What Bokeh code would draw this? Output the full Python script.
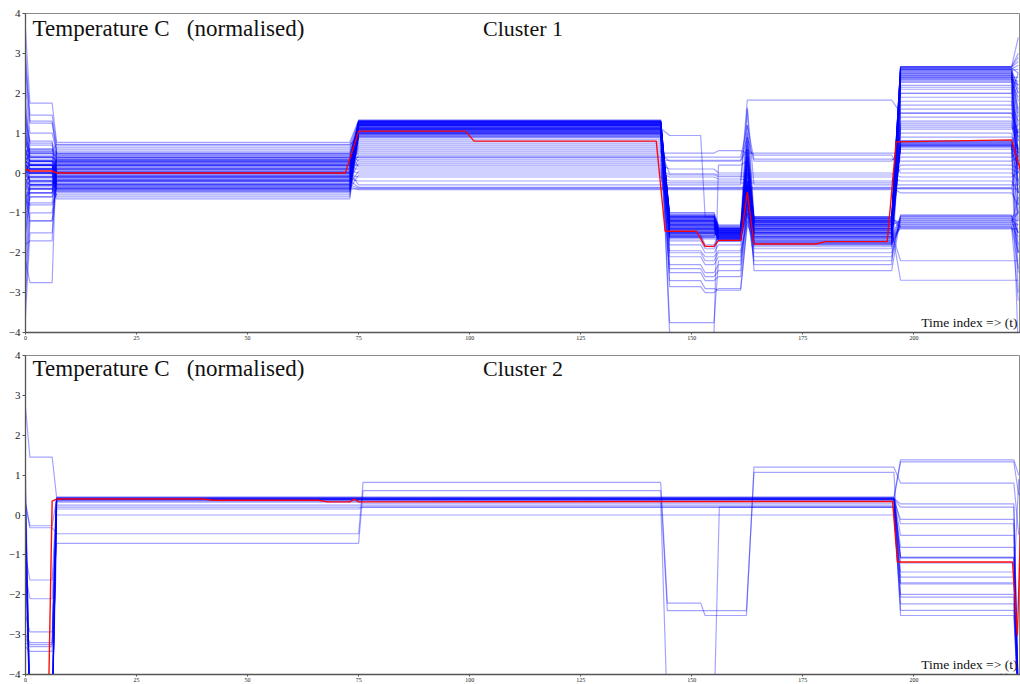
from bokeh.plotting import figure
from bokeh.layouts import column
from bokeh.models import Label, FixedTicker, Range1d
from bokeh.embed import file_html
from bokeh.resources import INLINE

# ---------------- data ----------------
# time index at which each level segment of a series starts/ends
seg_times_1 = [[0], [1, 6], [7, 73], [75, 143], [145, 152], [153, 155],
               [156, 161], [162.5], [164, 195], [197, 222], [223.5]]

# cluster 1 series: levels per segment
# (t0, t1-6, t7-73, t75-143, t145-152, t153-155, t156-161, t162, t164-195, t197-222, end)
cluster1 = [
    [3.6, 1.75, 0.77, 1.33, -1.05, -1.05, -1.40, 1.60, -1.10, 2.67, 3.40],
    [3.0, 1.45, 0.70, 1.30, -1.10, -1.10, -1.45, 1.20, -1.15, 2.62, 1.50],
    [2.6, 1.25, 0.60, 1.28, -1.15, -1.15, -1.50, 0.90, -1.20, 2.60, 0.50],
    [2.2, 1.00, 0.50, 1.25, -1.20, -1.20, -1.55, 0.60, -1.25, 2.55, -0.50],
    [1.8, 0.75, 0.45, 1.22, -1.25, -1.25, -1.60, -0.50, -1.30, 2.50, -1.00],
    [1.5, 0.60, 0.40, 1.20, -1.30, -1.30, -1.65, -0.80, -1.35, 2.45, 2.00],
    [1.2, 0.50, 0.35, 1.18, -1.35, -1.35, -1.70, -0.30, -1.40, 2.40, 2.40],
    [1.0, 0.45, 0.30, 1.15, -1.40, -1.40, -1.40, 0.20, -1.45, 2.35, 2.30],
    [0.8, 0.40, 0.25, 1.12, -1.45, -1.45, -1.45, -0.20, -1.50, 2.30, 1.00],
    [0.6, 0.35, 0.20, 1.10, -1.50, -1.50, -1.50, 0.40, -1.55, 2.20, 0.80],
    [0.5, 0.30, 0.15, 1.08, -1.55, -1.80, -1.55, -0.90, -1.60, 2.10, 0.30],
    [0.4, 0.25, 0.10, 1.05, -1.60, -1.85, -1.60, -1.00, -1.65, 2.00, -0.30],
    [0.3, 0.20, 0.05, 1.02, -1.05, -1.05, -1.35, -0.60, -1.70, 1.90, -2.00],
    [0.2, 0.15, 0.00, 1.00, -1.10, -1.10, -1.40, -0.70, -1.75, 1.80, 0.00],
    [0.1, 0.10, -0.05, 0.98, -1.20, -1.20, -1.45, 0.10, -1.80, 1.60, 0.90],
    [0.0, 0.05, -0.10, 0.95, -1.30, -1.30, -1.50, -0.60, -1.10, 1.40, 0.60],
    [-0.1, 0.00, -0.15, 0.92, -1.40, -1.40, -1.55, -0.40, -1.15, 1.20, 0.50],
    [-0.2, -0.05, -0.20, 0.90, -1.50, -1.50, -1.60, -0.50, -1.20, 1.00, 0.20],
    [-0.3, -0.10, -0.25, 1.25, -1.60, -1.60, -1.65, 0.80, -1.25, 0.81, 0.10],
    [-0.4, -0.15, -0.30, 1.20, -1.70, -1.90, -1.70, -0.20, -1.30, 0.78, 0.00],
    [-0.5, -0.20, -0.35, 1.15, -1.80, -2.00, -1.80, -0.60, -1.35, 0.75, -0.50],
    [-0.7, -0.25, -0.40, 1.10, -1.95, -2.10, -1.95, -0.80, -1.40, 0.72, -1.20],
    [-1.0, -0.30, -0.45, 1.05, -2.10, -2.30, -2.10, -0.90, -1.45, 0.70, -2.50],
    [-1.3, -0.35, -0.55, 1.00, -2.30, -2.50, -2.30, -1.00, -1.50, 0.68, -3.00],
    [-1.6, -0.40, -0.65, 0.95, -2.50, -2.70, -2.60, -1.10, -1.55, 0.65, -4.50],
    [-2.0, -0.50, 0.20, 1.30, -2.70, -2.90, -2.94, -1.20, -1.60, 0.80, 0.30],
    [-2.4, -0.75, 0.10, 1.27, -2.85, -3.00, -2.90, -1.30, -1.65, 0.70, 0.70],
    [-2.8, -1.00, 0.00, 1.22, -3.75, -3.75, -2.20, -1.00, -2.20, -1.07, -2.00],
    [-3.2, -1.20, -0.10, 1.18, -4.00, -4.05, 0.20, 0.30, -2.45, -1.10, -1.50],
    [-3.6, -1.50, -0.20, 1.12, 0.94, -1.10, -1.45, -0.50, -2.00, -1.15, -1.20],
    [0.1, 0.00, -0.40, -0.40, -0.40, -0.40, -0.40, -0.40, -0.40, -0.40, -0.40],
    [0.2, 0.10, -0.30, -0.38, -0.38, -0.38, -0.38, -0.38, -0.38, -0.38, -1.00],
    [-0.1, -0.10, -0.35, -0.42, -0.42, -0.42, -0.42, -0.42, -0.42, -0.37, 0.50],
    [0.3, 0.20, -0.20, -0.36, -0.37, -0.37, -0.36, -0.36, -0.36, -0.50, -0.80],
    [0.4, 0.30, 0.00, -0.30, -0.30, -0.30, -0.30, 1.64, -0.30, -0.30, -0.30],
    [0.5, 0.40, 0.30, 0.50, 0.50, 0.50, 0.56, 0.50, 0.50, 0.50, 0.20],
    [0.6, 0.50, 0.40, 0.40, 0.40, 0.40, 0.40, 1.20, 0.35, 0.30, 0.40],
    [0.7, 0.55, 0.45, 0.30, 0.32, 0.32, 0.32, 0.60, 0.45, 0.00, -0.20],
    [-0.2, -0.30, 0.20, 0.20, 0.10, 0.10, 0.00, 0.00, 0.00, -0.10, 0.00],
    [-0.3, -0.40, 0.10, 0.10, -0.05, -0.05, -0.09, -0.10, -0.10, -0.20, -0.50],
    [0.0, 0.00, 0.05, 0.00, -0.10, -0.10, -0.15, -0.20, -0.20, 0.20, 0.10],
    [0.1, 0.10, -0.05, -0.10, -0.20, -0.20, -0.20, 1.83, 1.83, 1.50, 1.00],
    [0.2, 0.20, -0.15, -0.20, -0.25, -0.25, -0.25, -0.25, -0.25, 0.40, 0.60],
    [0.0, 0.30, 0.30, 1.30, -1.10, -1.10, -1.40, 0.40, -1.20, 2.67, 3.00],
    [0.1, 0.20, 0.20, 1.28, -1.20, -1.20, -1.50, 1.00, -1.30, 2.64, 2.50],
    [-0.1, 0.10, 0.10, 1.26, -1.30, -1.30, -1.60, -0.30, -1.40, 2.58, 2.60],
    [0.2, 0.00, 0.00, 1.24, -1.40, -1.40, -1.40, -0.50, -1.50, 2.52, 2.20],
    [-0.2, -0.10, -0.10, 1.22, -1.50, -1.50, -1.50, 0.70, -1.60, 2.47, 2.00],
    [0.3, 0.50, 0.40, 1.20, -1.15, -1.15, -1.45, -0.70, -1.70, 2.42, 1.80],
    [0.5, 0.60, 0.50, 1.10, -1.25, -1.25, -1.55, -0.40, -1.75, 2.37, 1.60],
    [0.0, -0.20, -0.30, 1.00, -1.35, -1.35, -1.65, -0.60, -1.80, -1.30, -1.30],
    [0.4, -0.30, -0.40, 0.90, -1.45, -1.45, -1.70, -0.50, -1.78, -1.35, -2.00],
    [-0.4, -0.40, -0.45, 1.30, -1.55, -1.55, -1.50, -0.70, -1.60, -1.40, -1.40],
    [-0.6, -0.50, -0.20, 1.27, -1.60, -1.60, -1.40, -0.30, -1.50, -2.20, -2.20],
    [-0.8, -0.30, -0.10, 1.20, -1.10, -1.10, -1.35, -0.40, -1.40, -2.69, -2.69],
    [0.9, 0.20, 0.15, 0.80, -1.20, -1.20, -1.45, -0.30, -1.30, -1.20, -1.00],
    [1.1, 0.30, 0.25, 0.60, -1.30, -1.30, -1.55, 0.30, -1.20, 1.10, 1.20],
    [1.4, 0.40, 0.35, 0.40, -1.40, -1.40, -1.65, -0.50, -2.30, 1.30, 0.80],
    [-0.5, -0.50, 0.00, 0.70, -1.50, -1.50, -1.60, -0.20, -1.15, -1.25, -1.50],
    [-1.5, -0.60, 0.55, 1.05, -1.00, -1.00, -1.30, 0.50, -1.25, 2.00, 2.50],
    [0.2, 0.10, 0.33, 1.31, -1.08, -1.08, -1.38, -0.20, -1.12, 2.65, 2.80],
    [-0.3, 0.00, 0.28, 1.29, -1.12, -1.12, -1.42, 0.50, -1.18, 2.60, 2.10],
    [0.1, -0.20, 0.22, 1.27, -1.18, -1.18, -1.48, -0.60, -1.22, 2.56, 1.20],
    [0.6, 0.30, 0.18, 1.24, -1.22, -1.22, -1.52, -0.10, -1.28, 2.50, 0.20],
    [-0.6, -0.30, 0.12, 1.21, -1.28, -1.28, -1.58, 0.20, -1.33, 2.44, -0.80],
    [0.3, 0.10, 0.08, 1.19, -1.33, -1.33, -1.62, -0.70, -1.38, 2.39, 1.40],
    [1.6, 0.70, 0.03, 1.16, -1.38, -1.38, -1.66, -0.40, -1.43, 2.33, 2.20],
    [-0.2, -0.10, -0.02, 1.13, -1.42, -1.42, -1.45, 0.00, -1.48, 2.27, 1.90],
    [0.0, 0.20, -0.07, 1.11, -1.48, -1.48, -1.50, -0.30, -1.53, 2.15, 0.40],
    [0.8, 0.40, -0.12, 1.08, -1.52, -1.52, -1.55, 0.60, -1.58, -1.10, -1.00],
    [-0.9, -0.40, -0.17, 1.06, -1.58, -1.58, -1.60, -0.80, -1.63, -1.15, -1.80],
    [0.4, 0.20, -0.22, 1.03, -1.62, -1.62, -1.64, -0.50, -1.68, -1.20, -1.30],
    [-0.4, -0.20, -0.27, 1.00, -1.07, -1.07, -1.37, 0.00, -1.72, -1.25, -0.60],
    [0.5, 0.30, -0.32, 0.97, -1.13, -1.13, -1.43, -0.90, -1.76, -1.30, -2.40],
    [-1.1, -0.60, -0.37, 1.30, -1.17, -1.17, -1.47, -0.30, -1.10, -1.35, -1.60],
    [0.0, 0.00, -0.42, 1.26, -1.23, -1.23, -1.53, 0.30, -1.15, -1.38, -3.20],
    [1.3, 0.80, -0.47, 1.23, -1.27, -1.27, -1.57, -0.40, -1.20, 0.77, 1.10],
    [-0.7, -0.80, -0.50, 1.19, -1.32, -1.32, -1.62, -0.60, -1.25, 0.74, 0.30],
    [0.2, 0.00, -0.60, 1.14, -1.37, -1.37, -1.67, 0.10, -1.30, 0.70, 0.60],
    [-2.2, -2.75, 0.65, 1.09, -1.43, -1.43, -1.40, -0.70, -1.35, 0.66, -0.20],
    [0.9, 0.55, 0.72, 0.85, -1.47, -1.47, -1.45, -0.20, -1.40, 1.70, 1.30],
    [-1.8, -1.70, 0.38, 0.75, -1.53, -1.53, -1.50, -0.50, -1.45, 1.50, 0.90],
    [0.0, 0.10, 0.32, 0.65, -1.57, -1.57, -1.55, 0.40, -1.50, 1.25, 0.50],
    [-0.1, -0.10, 0.27, 0.55, -0.02, -0.02, -0.05, -0.05, -0.05, 0.10, 0.00],
    [0.3, 0.20, 0.02, 0.45, 0.30, 0.30, 0.30, 0.90, 0.30, 0.60, 0.40],
    [0.1, 0.00, -0.08, 0.35, -1.65, -1.65, -1.68, -1.00, -2.10, -1.05, -1.50],
    [-0.5, -1.20, -0.18, 0.25, -2.00, -2.20, -2.00, -1.20, -1.85, 0.90, 0.60],
    [2.8, 1.30, 0.48, 0.15, -2.40, -2.60, -2.45, -0.80, -1.90, 1.15, 1.00],
    [0.6, 0.10, -0.28, 0.05, -1.00, -1.00, -1.32, -0.30, -1.13, 2.66, 2.90],
    [-0.3, -0.20, -0.38, -0.05, -1.20, -1.20, -1.50, 0.00, -1.23, 2.61, 2.70],
]

centroid1_t = [0, 1, 6, 7, 72, 75, 99, 101, 142, 144, 151, 153, 155, 156, 161, 162.5,
               164, 178, 180, 194, 196, 222, 224]
centroid1_v = [0.10, 0.05, 0.05, 0.00, 0.00, 1.05, 1.05, 0.80, 0.80, -1.46, -1.46, -1.84,
               -1.84, -1.69, -1.69, -0.48, -1.78, -1.78, -1.72, -1.72, 0.78, 0.83, 0.06]

seg_times_2 = [[0], [1, 6], [7, 75], [76, 143], [144.5, 152], [153, 155],
               [156.2, 162.3], [164, 195.5], [197, 222.5], [223.6]]

# cluster 2 series: levels per segment
# (t0, t1-6, t7-75, t76-143, t145-152, t153-155, t156-162, t164-195, t197-222, end)
cluster2 = [
    [2.70, 1.45, 0.45, 0.45, 0.45, 0.45, 0.45, 0.45, 1.38, 1.00],
    [0.30, -0.27, 0.40, 0.40, 0.40, 0.40, 0.40, 0.40, 1.33, 0.50],
    [0.25, -0.32, -0.47, 0.82, -2.21, -2.52, -2.52, 1.20, 0.80, -0.50],
    [-1.00, -1.63, 0.42, 0.42, 0.42, 0.42, 0.42, 0.42, 0.28, -5.0],
    [-1.50, -2.10, 0.40, 0.40, 0.40, 0.40, 0.40, 0.40, 0.20, -5.0],
    [-2.50, -2.93, 0.38, 0.38, 0.38, 0.38, 0.38, 0.38, -0.11, -5.0],
    [-3.00, -3.20, 0.44, 0.44, 0.44, 0.44, 0.44, 0.44, -0.22, -5.0],
    [-3.10, -3.25, 0.41, 0.41, 0.41, 0.41, 0.41, 0.41, -0.51, -5.0],
    [-3.20, -3.30, 0.39, 0.39, 0.39, 0.39, 0.39, 0.39, -0.81, -5.0],
    [-3.30, -3.42, 0.43, 0.43, 0.43, 0.43, 0.43, 0.43, -1.06, -5.0],
    [0.00, -5.00, 0.40, 0.40, 0.40, 0.40, 0.40, 0.40, -1.06, -5.0],
    [-0.50, -5.00, 0.42, 0.42, 0.42, 0.42, 0.42, 0.42, -1.08, -5.0],
    [-0.90, -5.00, 0.36, 0.36, 0.36, 0.36, 0.36, 0.36, -1.43, -5.0],
    [0.50, -5.00, 0.25, 0.25, 0.25, 0.25, 0.25, 0.25, -1.56, -5.0],
    [-0.30, -5.00, 0.20, 0.20, 0.20, 0.20, 0.20, 0.20, -1.73, -5.0],
    [0.10, -5.00, 0.00, 0.00, 0.00, 0.00, 0.00, 0.00, -1.99, -5.0],
    [-0.70, -5.00, -0.71, 0.61, -2.40, -2.40, -2.40, 1.07, -2.06, -5.0],
    [-0.20, -5.00, 0.35, 0.35, -5.00, -5.00, 0.20, 0.20, -2.23, -5.0],
    [0.40, -5.00, 0.15, 0.20, 0.20, 0.20, 0.20, 0.20, -2.39, -5.0],
    [-1.20, -5.00, 0.32, 0.30, 0.30, 0.30, 0.30, 0.30, -2.52, -5.0],
    [0.20, -5.00, 0.40, 0.40, 0.40, 0.40, 0.40, 0.40, -1.20, -5.0],
    [1.00, -5.00, 0.40, 0.40, 0.40, 0.40, 0.40, 0.40, -1.70, 0.90],
]

centroid2_t = [0, 5.2, 6, 7, 40, 42, 66, 68, 73, 74, 75, 195.2, 196.3, 222.2, 223.3, 224.3]
centroid2_v = [-5.5, -4.5, 0.35, 0.40, 0.40, 0.37, 0.37, 0.33, 0.33, 0.40, 0.33, 0.34,
               -1.18, -1.18, -3.02, 0.80]

y_ticks = [-4, -3, -2, -1, 0, 1, 2, 3, 4]
x_ticks = [0, 25, 50, 75, 100, 125, 150, 175, 200, 225]
y_range = (-4, 4)
x_range = (0, 224)

titles = ["Cluster 1", "Cluster 2"]
y_title = "Temperature C\u00a0\u00a0\u00a0(normalised)"
x_note = "Time index => (t)"
x_unit = "(t)"

SERIF = "Liberation Serif"


def expand(levels, seg_times):
    xs, ys = [], []
    for lv, ts in zip(levels, seg_times):
        for t in ts:
            xs.append(t)
            ys.append(lv)
    return xs, ys


def make_panel(series, seg_times, ct, cv, title, height, border_top, border_bottom,
               title_y, unit_y, unit_size):
    p = figure(width=1020, height=height, output_backend="svg", toolbar_location=None,
               x_range=Range1d(*x_range), y_range=Range1d(*y_range),
               min_border_left=25, min_border_right=0,
               min_border_top=border_top, min_border_bottom=border_bottom)
    p.background_fill_color = "white"
    p.border_fill_color = "white"
    p.outline_line_color = "#8a8a8a"
    p.outline_line_width = 1
    p.grid.visible = False

    xs_all, ys_all = [], []
    for row in series:
        xs, ys = expand(row, seg_times)
        xs_all.append(xs)
        ys_all.append(ys)
    p.multi_line(xs_all, ys_all, line_color="#0000ff", line_alpha=0.36, line_width=1.2)
    p.line(ct, cv, line_color="#ff0000", line_width=1.4, line_alpha=0.95)

    p.yaxis.ticker = FixedTicker(ticks=y_ticks)
    p.xaxis.ticker = FixedTicker(ticks=x_ticks)
    for ax in (p.xaxis, p.yaxis):
        ax.axis_line_color = "#555555"
        ax.axis_line_width = 1.3
        ax.major_tick_line_color = "#555555"
        ax.minor_tick_line_color = None
        ax.major_tick_in = 0
        ax.major_label_text_font = SERIF
        ax.major_label_text_color = "#222222"
    p.yaxis.major_tick_out = 3
    p.yaxis.major_label_standoff = 2
    p.yaxis.major_label_text_font_size = "11px"
    p.xaxis.major_tick_out = 2
    p.xaxis.major_label_standoff = 1
    p.xaxis.major_label_text_font_size = "6px"

    p.add_layout(Label(x=1.6, y=title_y, text=y_title, text_font=SERIF,
                       text_font_size="23px", text_baseline="middle", text_color="#111111"))
    p.add_layout(Label(x=103.0, y=title_y, text=title, text_font=SERIF,
                       text_font_size="22px", text_baseline="middle", text_color="#111111"))
    p.add_layout(Label(x=223.3, y=-3.75, text=x_note, text_font=SERIF,
                       text_font_size="13.5px", text_baseline="middle", text_align="right",
                       text_color="#111111"))
    p.add_layout(Label(x=220.2, y=unit_y, text=x_unit, text_font=SERIF,
                       text_font_size=unit_size, text_baseline="middle", text_align="center",
                       text_color="#111111"))
    return p


p1 = make_panel(cluster1, seg_times_1, centroid1_t, centroid1_v, titles[0],
                350, 13, 18, 3.63, -4.17, "14px")
p2 = make_panel(cluster2, seg_times_2, centroid2_t, centroid2_v, titles[1],
                334, 5, 10, 3.67, -4.09, "12px")

layout = column(p1, p2, spacing=0)
open("out.html", "w").write(file_html(layout, INLINE))
